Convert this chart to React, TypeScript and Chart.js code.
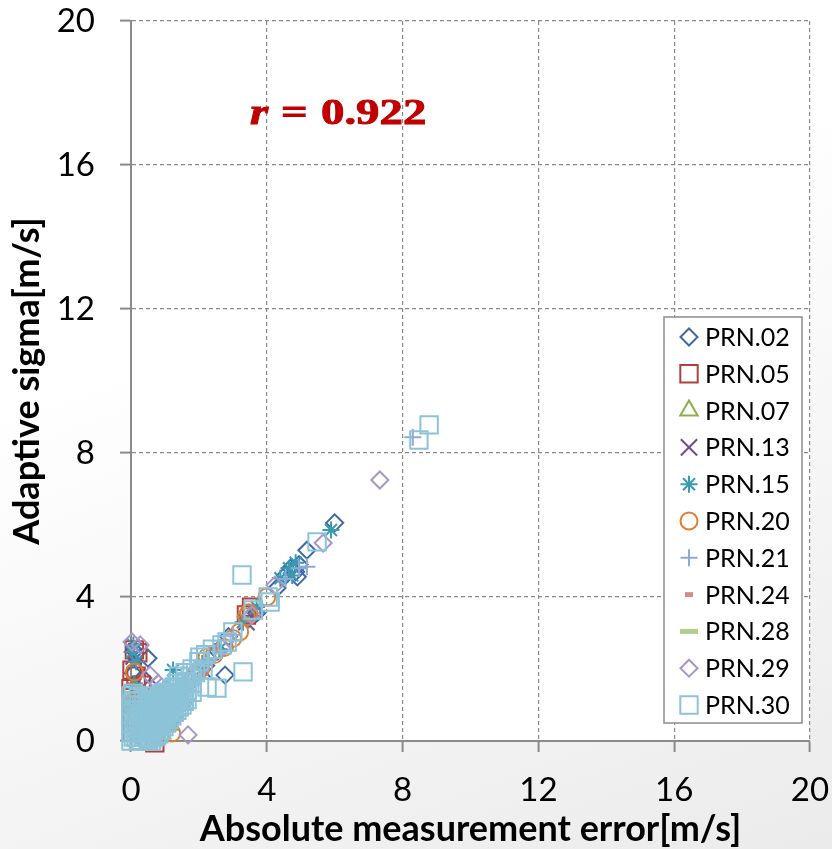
import React, { useEffect, useRef } from 'react';
import { Chart, registerables } from 'chart.js';
import { drawPoint } from 'chart.js/helpers';

Chart.register(...registerables);

type P = [number, number];

const seriesNames = ['PRN.02', 'PRN.05', 'PRN.07', 'PRN.13', 'PRN.15', 'PRN.20', 'PRN.21', 'PRN.24', 'PRN.28', 'PRN.29', 'PRN.30'];
const seriesColors = ['#3D69AA', '#B0403C', '#8BAE4A', '#6B4E92', '#3A9AB2', '#E07E34', '#8FA9D3', '#D68C8A', '#B4CC8E', '#A797C4', '#8CC3D8'];
const xTicks = [0, 4, 8, 12, 16, 20];
const yTicks = [0, 4, 8, 12, 16, 20];
const corrLabel = '0.922';

const prn02: P[] = [[6.0, 6.06], [5.18, 5.3], [4.9, 4.56], [4.7, 4.8], [4.85, 4.7], [4.95, 4.9], [4.55, 4.6], [4.3, 4.25], [3.7, 3.55], [3.45, 3.4], [2.87, 2.9], [2.77, 1.83], [2.55, 2.5], [2.2, 2.1], [1.95, 1.9], [1.53, 1.05], [1.6, 1.5], [1.25, 1.2], [1.0, 0.9], [0.5, 2.3], [0.1, 2.5], [0.07, 1.88], [0.35, 1.75], [0.6, 1.3], [0.2, 1.1], [0.8, 0.6], [0.4, 0.5], [0.15, 0.3], [1.3, 0.7]];
const prn05: P[] = [[0.1, 2.53], [0.2, 2.45], [0.03, 1.97], [0.15, 1.8], [0.0, 1.45], [0.05, 1.2], [0.1, 1.0], [0.02, 0.75], [0.3, 1.55], [0.2, 0.5], [0.05, 0.25], [0.7, -0.05], [0.5, 0.1], [3.55, 3.72], [3.4, 3.5], [1.1, 1.25], [0.9, 0.85]];
const prn07: P[] = [[0.3, 0.35], [0.6, 0.5], [1.15, 0.45], [0.9, 0.2], [0.45, 0.15], [1.4, 1.2]];
const prn13: P[] = [[0.08, 2.35], [0.85, 1.47], [0.7, 1.22], [0.45, 0.85], [1.0, 0.95], [0.2, 0.35], [0.3, 1.05], [1.5, 1.3], [2.1, 2.0], [3.4, 3.3]];
const prn15: P[] = [[5.89, 5.86], [4.65, 4.8], [4.4, 4.52], [4.75, 4.6], [4.85, 4.95], [3.7, 3.72], [3.3, 3.3], [0.07, 2.67], [0.03, 2.47], [0.15, 2.2], [1.24, 1.97], [1.3, 0.77], [0.1, 1.6], [0.4, 1.2], [2.6, 2.55], [2.1, 2.15], [0.6, 0.7], [0.9, 0.35], [0.2, 0.15]];
const prn20: P[] = [[4.0, 4.0], [3.47, 3.56], [3.4, 3.45], [3.2, 3.03], [3.0, 2.85], [2.75, 2.6], [2.45, 2.4], [2.24, 2.33], [2.05, 2.0], [1.85, 1.8], [1.6, 1.55], [1.4, 1.35], [1.2, 0.22], [0.1, 1.92], [0.3, 1.3], [0.0, 1.36], [0.0, 1.05], [0.15, 0.8], [0.1, 0.5], [0.35, 0.3], [0.7, 0.15], [1.0, 0.45], [0.5, 0.9], [0.9, 1.1]];
const prn21: P[] = [[8.3, 8.44], [5.18, 4.84], [4.95, 4.8], [4.55, 4.5], [3.0, 2.95], [2.3, 2.25], [1.7, 1.65], [1.1, 1.05], [0.6, 0.55], [0.25, 0.7], [0.15, 0.15]];
const prn24: P[] = [[0.5, 0.05], [0.25, 0.45], [0.75, 0.6], [1.3, 1.05], [0.1, 0.2], [1.9, 1.75]];
const prn28: P[] = [[0.35, 0.2], [0.7, 0.35], [1.1, 0.75], [0.2, 0.6]];
const prn29: P[] = [[7.33, 7.25], [5.66, 5.5], [4.24, 4.33], [3.56, 3.5], [2.68, 2.58], [0.03, 2.75], [0.27, 2.67], [0.56, 1.83], [0.8, 1.6], [0.9, 1.5], [1.68, 0.17], [1.5, 1.45], [2.0, 1.95], [0.25, 0.3], [0.6, 1.0], [1.25, 0.6]];
const prn30: P[] = [
  [8.78, 8.78], [8.48, 8.36], [5.48, 5.53], [3.27, 4.61], [3.3, 1.92], [4.1, 3.86], [4.04, 4.0], [3.6, 3.64], [3.0, 3.03], [2.83, 2.75], [2.68, 2.67], [2.53, 1.47], [2.24, 1.5], [2.03, 2.33], [2.12, 1.97], [1.74, 1.78],
  [1.4, 1.8], [1.6, 1.9], [1.8, 2.0], [2.0, 2.2], [2.2, 2.4], [2.4, 2.55],
  [0.0, 0.0], [0.0, 0.25], [0.0, 0.5], [0.0, 0.75], [0.0, 1.0], [0.0, 1.25],
  [0.15, 0.1], [0.15, 0.35], [0.15, 0.6], [0.15, 0.85], [0.15, 1.1],
  [0.3, 0.0], [0.3, 0.25], [0.3, 0.5], [0.3, 0.75], [0.3, 1.0],
  [0.45, 0.1], [0.45, 0.35], [0.45, 0.6], [0.45, 0.85], [0.45, 1.1],
  [0.6, 0.0], [0.6, 0.25], [0.6, 0.5], [0.6, 0.75], [0.6, 1.0],
  [0.75, 0.15], [0.75, 0.4], [0.75, 0.65], [0.75, 0.9], [0.75, 1.15],
  [0.9, 0.3], [0.9, 0.55], [0.9, 0.8], [0.9, 1.05], [0.9, 1.3],
  [1.05, 0.5], [1.05, 0.75], [1.05, 1.0], [1.05, 1.25],
  [1.2, 0.7], [1.2, 0.95], [1.2, 1.2], [1.2, 1.45],
  [1.35, 0.85], [1.35, 1.1], [1.35, 1.35], [1.35, 1.6],
  [1.5, 1.0], [1.5, 1.25], [1.5, 1.5],
  [1.65, 1.15], [1.65, 1.4], [1.65, 1.65],
  [1.8, 1.35], [1.8, 1.6], [1.9, 1.9],
  [0.07, 0.12], [0.07, 0.37], [0.07, 0.62], [0.07, 0.87], [0.07, 1.12], [0.07, 1.32],
  [0.22, 0.02], [0.22, 0.22], [0.22, 0.47], [0.22, 0.72], [0.22, 0.97], [0.22, 1.2],
  [0.37, 0.12], [0.37, 0.37], [0.37, 0.62], [0.37, 0.87], [0.37, 1.15],
  [0.52, 0.05], [0.52, 0.3], [0.52, 0.55], [0.52, 0.8], [0.52, 1.05], [0.52, 1.25],
  [0.67, 0.1], [0.67, 0.35], [0.67, 0.6], [0.67, 0.85], [0.67, 1.1],
  [0.82, 0.2], [0.82, 0.45], [0.82, 0.7], [0.82, 0.95], [0.82, 1.2],
  [0.97, 0.4], [0.97, 0.65], [0.97, 0.9], [0.97, 1.15], [0.97, 1.35],
  [1.12, 0.6], [1.12, 0.85], [1.12, 1.1], [1.12, 1.35],
  [1.27, 0.8], [1.27, 1.05], [1.27, 1.3], [1.27, 1.5],
  [1.42, 0.95], [1.42, 1.2], [1.42, 1.45],
  [1.57, 1.1], [1.57, 1.35], [1.57, 1.6],
];

const seriesData: P[][] = [prn02, prn05, prn07, prn13, prn15, prn20, prn21, prn24, prn28, prn29, prn30];

const markerStyles = [
  { pointStyle: 'rectRot', radius: 8.5, borderWidth: 2 },
  { pointStyle: 'rect', radius: 12.3, borderWidth: 2 },
  { pointStyle: 'triangle', radius: 10, borderWidth: 2 },
  { pointStyle: 'crossRot', radius: 11.5, borderWidth: 2 },
  { pointStyle: 'star', radius: 8.5, borderWidth: 2 },
  { pointStyle: 'circle', radius: 8.5, borderWidth: 2 },
  { pointStyle: 'cross', radius: 8.5, borderWidth: 2 },
  { pointStyle: 'line', radius: 4, borderWidth: 5 },
  { pointStyle: 'line', radius: 9, borderWidth: 5 },
  { pointStyle: 'rectRot', radius: 8.5, borderWidth: 2 },
  { pointStyle: 'rect', radius: 12.3, borderWidth: 2 },
];

const GRID = '#8a8a8a';
const AXIS = '#8a8a8a';

const bgPlugin = {
  id: 'areaBg',
  beforeDraw(chart: any) {
    const { ctx, chartArea } = chart;
    ctx.save();
    ctx.fillStyle = '#ffffff';
    ctx.fillRect(chartArea.left, chartArea.top, chartArea.right - chartArea.left, chartArea.bottom - chartArea.top);
    ctx.restore();
  },
};

const SERIF = '"Liberation Serif", "Times New Roman", serif';

const annotPlugin = {
  id: 'annot',
  afterDraw(chart: any) {
    const { ctx, chartArea } = chart;
    ctx.save();
    ctx.fillStyle = '#C00000';
    ctx.strokeStyle = '#C00000';
    ctx.lineWidth = 0.9;
    ctx.textBaseline = 'alphabetic';
    const baseY = chartArea.top + 103;
    const sx = 1.3;
    const draw = (text: string, font: string, x: number) => {
      ctx.save();
      ctx.font = font;
      ctx.translate(x, baseY);
      ctx.scale(sx, 1);
      ctx.fillText(text, 0, 0);
      ctx.strokeText(text, 0, 0);
      ctx.restore();
    };
    draw('r', 'italic bold 36px ' + SERIF, chartArea.left + 119);
    draw('=', 'bold 36px ' + SERIF, chartArea.left + 150);
    draw(corrLabel, 'bold 36px ' + SERIF, chartArea.left + 190);
    ctx.restore();

    // legend
    const left = chartArea.right - 146;
    const top = chartArea.top + 296;
    const w = 138;
    const h = 406;
    ctx.save();
    ctx.fillStyle = '#ffffff';
    ctx.fillRect(left, top, w, h);
    ctx.strokeStyle = '#8c8c8c';
    ctx.lineWidth = 1.5;
    ctx.strokeRect(left, top, w, h);
    ctx.font = '25px Lato';
    ctx.textBaseline = 'middle';
    seriesNames.forEach((name, i) => {
      const cy = top + 20 + i * 36.8;
      const m = markerStyles[i];
      ctx.strokeStyle = seriesColors[i];
      ctx.fillStyle = 'rgba(0,0,0,0)';
      ctx.lineWidth = m.borderWidth;
      drawPoint(ctx, { pointStyle: m.pointStyle, radius: m.radius, borderWidth: m.borderWidth, rotation: 0 } as any, left + 25, cy);
      ctx.fillStyle = '#000000';
      ctx.fillText(name, left + 41, cy + 1);
    });
    ctx.restore();
  },
};

export default function App() {
  const ref = useRef<HTMLCanvasElement | null>(null);
  useEffect(() => {
    if (!ref.current) return;
    const datasets = seriesNames.map((name, i) => ({
      label: name,
      data: seriesData[i].map(([x, y]) => ({ x, y })),
      borderColor: seriesColors[i],
      backgroundColor: 'rgba(0,0,0,0)',
      pointStyle: markerStyles[i].pointStyle as any,
      pointRadius: markerStyles[i].radius,
      pointBorderWidth: markerStyles[i].borderWidth,
      pointHoverRadius: markerStyles[i].radius,
      order: -i,
      clip: false as any,
    }));
    const chart = new Chart(ref.current, {
      type: 'scatter',
      data: { datasets },
      options: {
        animation: false,
        responsive: true,
        maintainAspectRatio: false,
        layout: { padding: { left: 0, top: 21, right: 22, bottom: 0 }, autoPadding: false } as any,
        plugins: { legend: { display: false }, tooltip: { enabled: false } },
        scales: {
          x: {
            type: 'linear',
            min: 0,
            max: 20,
            afterBuildTicks(scale: any) { scale.ticks = xTicks.map((v) => ({ value: v })); },
            afterFit(scale: any) { scale.height = 108; scale.paddingLeft = 0; scale.paddingRight = 0; scale.paddingTop = 0; scale.paddingBottom = 0; },
            ticks: { font: { family: 'Lato', size: 33 }, color: '#000', padding: 19, maxRotation: 0, autoSkip: false },
            grid: { color: GRID, lineWidth: 1.2, drawTicks: true, tickLength: 11, tickColor: AXIS, tickWidth: 2, tickBorderDash: [] } as any,
            border: { display: true, color: AXIS, width: 2, dash: [4, 3] },
            title: { display: true, text: 'Absolute measurement error[m/s]', font: { family: 'Lato', size: 36, weight: 'bold', lineHeight: 1.1 }, color: '#000', padding: { top: 0, bottom: 0 } },
          },
          y: {
            type: 'linear',
            min: 0,
            max: 20,
            afterBuildTicks(scale: any) { scale.ticks = yTicks.map((v) => ({ value: v })); },
            afterFit(scale: any) { scale.width = 131; scale.paddingLeft = 0; scale.paddingRight = 0; scale.paddingTop = 0; scale.paddingBottom = 0; },
            ticks: { font: { family: 'Lato', size: 33 }, color: '#000', padding: 25, autoSkip: false },
            grid: { color: GRID, lineWidth: 1.2, drawTicks: true, tickLength: 11, tickColor: AXIS, tickWidth: 2, tickBorderDash: [] } as any,
            border: { display: true, color: AXIS, width: 2, dash: [4, 3] },
            title: { display: true, text: 'Adaptive sigma[m/s]', font: { family: 'Lato', size: 36, weight: 'bold', lineHeight: 1.1 }, color: '#000', padding: { top: 8, bottom: 0 } },
          },
        },
      },
      plugins: [bgPlugin, annotPlugin],
    });
    return () => chart.destroy();
  }, []);
  return (
    <div style={{ position: 'absolute', left: 0, top: 0, width: 832, height: 849, background: 'linear-gradient(160deg, #ffffff 35%, #ebebeb 100%)' }}>
      <canvas ref={ref} />
    </div>
  );
}
